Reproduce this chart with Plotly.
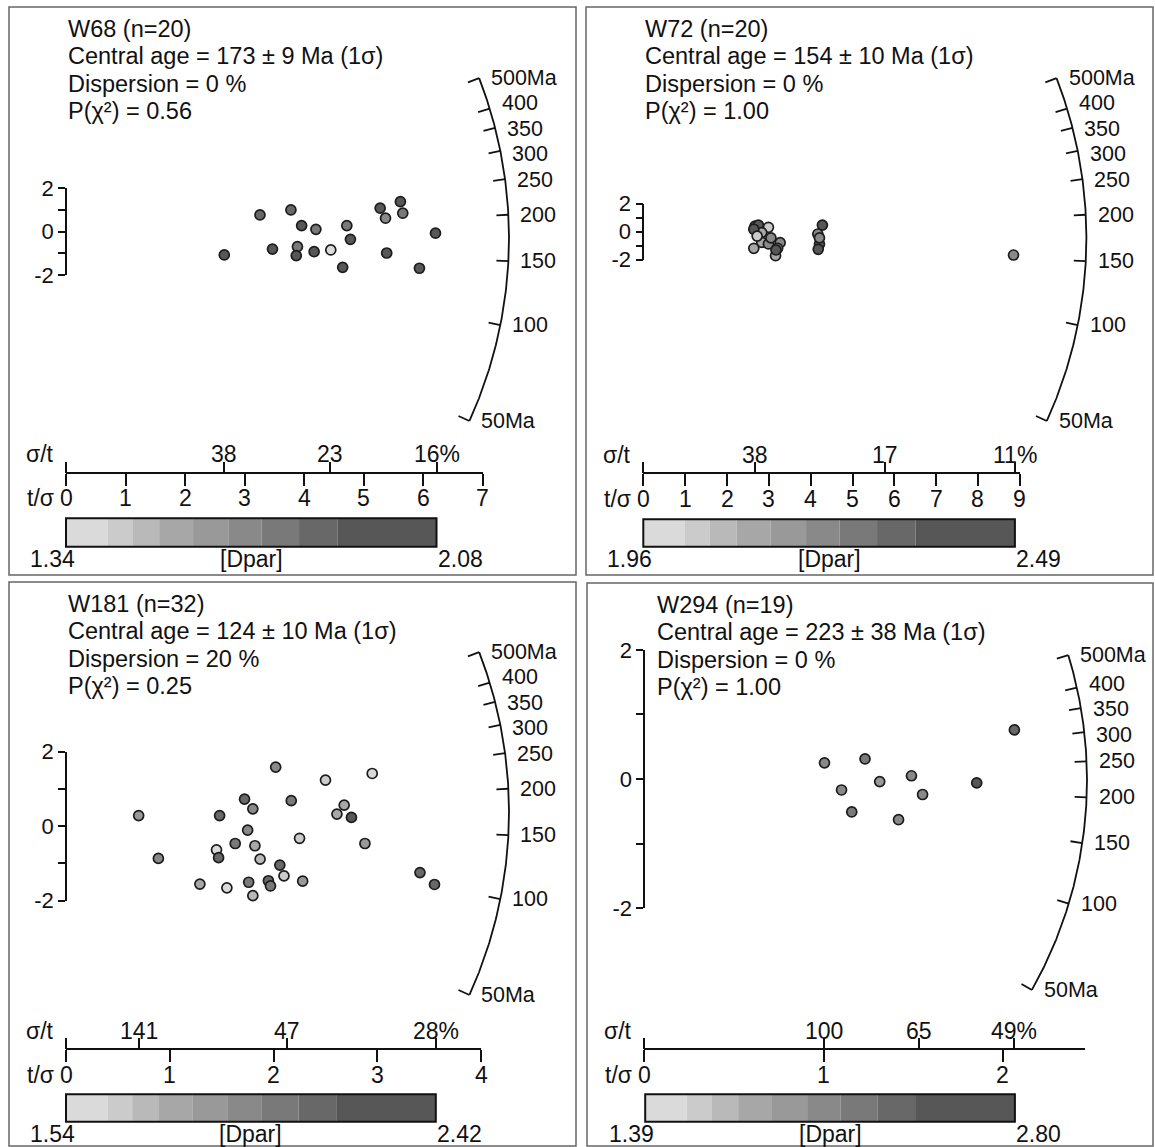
import numpy as np
import plotly.graph_objects as go

W, H = 1155, 1147
FONT = "Liberation Sans, Arial, sans-serif"

# ---------------- data ----------------
# W68
w68_tsig = [2.66, 3.26, 3.47, 3.78, 3.96, 3.89, 3.87, 4.20, 4.17, 4.45, 4.65, 4.72, 4.78, 5.28, 5.37, 5.62, 5.66, 5.39, 5.94, 6.21]
w68_z = [-1.07, 0.77, -0.80, 1.00, 0.28, -0.69, -1.10, 0.11, -0.92, -0.84, -1.64, 0.28, -0.35, 1.08, 0.62, 1.38, 0.85, -0.98, -1.68, -0.07]
w68_dpar = [1.98, 1.84, 1.98, 1.84, 1.98, 1.77, 1.98, 1.77, 1.98, 1.38, 1.98, 1.77, 1.98, 1.98, 1.70, 1.98, 1.77, 1.98, 1.98, 1.98]
w68_sigt_pos = [2.66, 4.43, 6.23]
w68_sigt_lab = ["38", "23", "16%"]
w68_tsig_ticks = [0, 1, 2, 3, 4, 5, 6, 7]
w68_dpar_range = [1.34, 2.08]
w68_text = ["W68 (n=20)", "Central age = 173 ± 9 Ma (1σ)", "Dispersion = 0 %", "P(χ²) = 0.56"]

# W72
w72_tsig = [2.67, 2.75, 2.99, 2.83, 2.64, 2.83, 2.64, 2.99, 3.27, 3.21, 3.16, 4.28, 4.17, 4.21, 4.18, 8.85, 2.72, 3.05, 4.21, 3.17]
w72_z = [0.39, 0.46, 0.30, -0.08, 0.16, -0.77, -1.20, -0.89, -0.80, -1.20, -1.73, 0.46, -0.18, -0.91, -1.27, -1.68, -0.33, -0.46, -0.46, -1.32]
w72_dpar = [2.42, 2.42, 2.04, 2.12, 2.42, 2.12, 2.12, 2.22, 2.22, 2.22, 2.12, 2.42, 2.22, 2.42, 2.42, 2.22, 2.04, 2.22, 2.22, 2.42]
w72_sigt_pos = [2.67, 5.77, 8.88]
w72_sigt_lab = ["38", "17", "11%"]
w72_tsig_ticks = [0, 1, 2, 3, 4, 5, 6, 7, 8, 9]
w72_dpar_range = [1.96, 2.49]
w72_text = ["W72 (n=20)", "Central age = 154 ± 10 Ma (1σ)", "Dispersion = 0 %", "P(χ²) = 1.00"]

# W181
w181_tsig = [2.02, 2.50, 2.95, 1.72, 1.80, 2.17, 0.70, 1.48, 2.68, 2.61, 2.75, 1.75, 2.25, 2.88, 1.63, 1.82,
             1.45, 1.47, 0.89, 1.87, 2.06, 2.10, 2.28, 1.95, 1.97, 1.76, 1.29, 1.55, 1.80, 2.02, 3.41, 3.55]
w181_z = [1.58, 1.23, 1.41, 0.72, 0.46, 0.68, 0.28, 0.28, 0.56, 0.32, 0.23, -0.11, -0.33, -0.47, -0.47, -0.53,
          -0.64, -0.85, -0.87, -0.89, -1.05, -1.34, -1.48, -1.47, -1.61, -1.51, -1.56, -1.66, -1.87, -2.29, -1.25, -1.57]
w181_dpar = [1.97, 1.67, 1.59, 2.14, 1.97, 2.05, 1.88, 2.14, 1.80, 1.80, 2.30, 1.97, 1.67, 1.88, 2.05, 1.80,
             1.59, 2.14, 1.97, 1.73, 2.14, 1.67, 1.88, 2.14, 2.05, 2.05, 1.80, 1.59, 1.73, 1.88, 2.14, 2.14]
w181_sigt_pos = [0.70, 2.13, 3.56]
w181_sigt_lab = ["141", "47", "28%"]
w181_tsig_ticks = [0, 1, 2, 3, 4]
w181_dpar_range = [1.54, 2.42]
w181_text = ["W181 (n=32)", "Central age = 124 ± 10 Ma (1σ)", "Dispersion = 20 %", "P(χ²) = 0.25"]

# W294
w294_tsig = [1.005, 1.231, 1.100, 1.313, 1.490, 1.552, 1.157, 1.418, 1.854, 2.064]
w294_z = [0.25, 0.31, -0.17, -0.04, 0.05, -0.24, -0.51, -0.63, -0.06, 0.76]
w294_dpar = [2.07, 2.20, 2.07, 1.94, 2.07, 2.07, 2.20, 2.07, 2.61, 2.35]
w294_sigt_pos = [1.00, 1.53, 2.06]
w294_sigt_lab = ["100", "65", "49%"]
w294_tsig_ticks = [0, 1, 2]
w294_dpar_range = [1.39, 2.80]
w294_text = ["W294 (n=19)", "Central age = 223 ± 38 Ma (1σ)", "Dispersion = 0 %", "P(χ²) = 1.00"]

z_ticks = [-2, -1, 0, 1, 2]
z_labels = ["-2", "", "0", "", "2"]
arc_ages = [50, 100, 150, 200, 250, 300, 350, 400, 500]
arc_labels = ["50Ma", "100", "150", "200", "250", "300", "350", "400", "500Ma"]

# colour steps of the Dpar scale (fractions of the bar)
cb_fracs = [0.0, 0.112, 0.179, 0.2515, 0.343, 0.438, 0.528, 0.629, 0.7325, 1.0]
cb_colors = ["#dadada", "#cbcbcb", "#b9b9b9", "#a7a7a7", "#999999", "#898989", "#797979", "#686868", "#575757"]

# ---------------- geometry (pixels) ----------------
geoms = [
    dict(box=(9, 7, 576, 575), ox=66.0, oy=231.7, sx=59.5, sy=21.75, xend=7.0, axy=472.7,
         cb=(66.0, 518.3, 436.5, 546.7), tx=66.0, arc=(66.0, 238.0, 443.0, 0.365, 173.2)),
    dict(box=(586, 7, 1153, 575), ox=643.4, oy=231.5, sx=41.82, sy=14.0, xend=9.0, axy=473.3,
         cb=(643.3, 519.3, 1014.9, 546.7), tx=643.4, arc=(643.4, 238.0, 443.0, 0.365, 173.2)),
    dict(box=(9, 582, 576, 1146), ox=66.0, oy=826.0, sx=103.8, sy=37.25, xend=4.0, axy=1049.3,
         cb=(66.0, 1094.3, 435.8, 1121.7), tx=66.0, arc=(66.0, 812.0, 443.0, 0.365, 173.2)),
    dict(box=(587, 583, 1153, 1146), ox=644.3, oy=779.0, sx=179.3, sy=64.6, xend=2.46, axy=1049.0,
         cb=(645.2, 1094.3, 1014.9, 1121.7), tx=655.0, arc=(659.7, 780.1, 427.3, 0.3776, 222.5)),
]
panels = [
    (w68_tsig, w68_z, w68_dpar, w68_sigt_pos, w68_sigt_lab, w68_tsig_ticks, w68_dpar_range, w68_text),
    (w72_tsig, w72_z, w72_dpar, w72_sigt_pos, w72_sigt_lab, w72_tsig_ticks, w72_dpar_range, w72_text),
    (w181_tsig, w181_z, w181_dpar, w181_sigt_pos, w181_sigt_lab, w181_tsig_ticks, w181_dpar_range, w181_text),
    (w294_tsig, w294_z, w294_dpar, w294_sigt_pos, w294_sigt_lab, w294_tsig_ticks, w294_dpar_range, w294_text),
]
ARC_LABEL_GAP = 25.5


def fx(px):
    return px / W


def fy(py):
    return 1 - py / H


def spread(ys, gap):
    ys = list(ys)
    order = sorted(range(len(ys)), key=lambda k: ys[k])
    for _ in range(60):
        moved = False
        for a, b in zip(order[:-1], order[1:]):
            d = ys[b] - ys[a]
            if d < gap:
                s = (gap - d) / 2 + 0.01
                ys[a] -= s
                ys[b] += s
                moved = True
        if not moved:
            break
    return ys


colorscale = []
for i, c in enumerate(cb_colors):
    colorscale.append([cb_fracs[i], c])
    colorscale.append([cb_fracs[i + 1], c])

fig = go.Figure()
layout = dict(
    width=W, height=H, margin=dict(l=0, r=0, t=0, b=0, pad=0),
    paper_bgcolor="white", plot_bgcolor="rgba(0,0,0,0)",
    showlegend=False, font=dict(family=FONT, size=23, color="#111"),
)
shapes, annotations = [], []
PIX = dict(xref="x9", yref="y5")
AX = dict(showgrid=False, zeroline=False, showline=True, linecolor="#111", linewidth=1.8, automargin=False,
          ticks="outside", tickcolor="#111", tickwidth=1.8, fixedrange=True,
          tickfont=dict(family=FONT, size=22, color="#111"))

for i, (g, p) in enumerate(zip(geoms, panels), start=1):
    tsig, z, dpar, sp, sl, tt, dr, txt = p
    x0p = g["ox"]
    x1p = g["ox"] + g["xend"] * g["sx"]
    ytop = g["oy"] - 2 * g["sy"]
    ybot = g["oy"] + 2 * g["sy"]
    # data axes
    layout[f"xaxis{i}"] = dict(AX, domain=[fx(x0p), fx(x1p)], range=[0, g["xend"]], anchor="free",
                               position=fy(g["axy"]), tickvals=tt, showticklabels=False, ticklen=12)
    layout[f"xaxis{i + 4}"] = dict(AX, overlaying=f"x{i}", side="top", range=[0, g["xend"]], anchor="free",
                                   position=fy(g["axy"]), tickvals=[0] + sp, showticklabels=False,
                                   ticklen=11, showline=False)
    layout[f"yaxis{i}"] = dict(AX, domain=[fy(ybot), fy(ytop)], range=[-2, 2], anchor="free",
                               position=fx(g["ox"]), tickvals=z_ticks, ticktext=z_labels, ticklen=7)
    # points
    fig.add_trace(go.Scatter(x=tsig, y=z, xaxis=f"x{i}", yaxis=f"y{i}", mode="markers", cliponaxis=False,
                             hoverinfo="skip",
                             marker=dict(size=10, color=dpar, colorscale=colorscale, cmin=dr[0], cmax=dr[1],
                                         line=dict(color="#1c1c1c", width=1.7))))
    fig.add_trace(go.Scatter(x=sp, y=[0] * len(sp), xaxis=f"x{i + 4}", yaxis=f"y{i}", mode="markers",
                             marker=dict(opacity=0), hoverinfo="skip"))
    # tick labels of the two precision scales
    for v in tt:
        annotations.append(dict(xref=f"x{i}", yref="y5", x=v, y=g["axy"] + 25.5, text=str(v),
                                showarrow=False, xanchor="center", yanchor="middle"))
    for v, lab in zip(sp, sl):
        annotations.append(dict(xref=f"x{i}", yref="y5", x=v, y=g["axy"] - 18.5, text=lab,
                                showarrow=False, xanchor="center", yanchor="middle"))
    annotations.append(dict(PIX, x=g["ox"] - 10, y=g["axy"] - 18.5, text="σ/t", showarrow=False,
                            xanchor="right", yanchor="middle"))
    annotations.append(dict(PIX, x=g["ox"] - 10, y=g["axy"] + 25.5, text="t/σ", showarrow=False,
                            xanchor="right", yanchor="middle"))
    # panel box
    bx = g["box"]
    shapes.append(dict(PIX, type="rect", x0=bx[0], y0=bx[1], x1=bx[2], y1=bx[3],
                       line=dict(color="#666", width=1.5)))
    # header text
    for j, t in enumerate(txt):
        annotations.append(dict(PIX, x=g["tx"], y=bx[1] + 22 + 27.4 * j, text=t, showarrow=False,
                                xanchor="left", yanchor="middle", font=dict(size=23.5)))
    # age arc
    acx, acy, R, K, T0 = g["arc"]
    ages = np.geomspace(arc_ages[0], arc_ages[-1], 240)
    th = np.arctan(K * np.log(ages / T0))
    fig.add_trace(go.Scatter(x=acx + R * np.cos(th), y=acy - R * np.sin(th),
                             xaxis="x9", yaxis="y5", mode="lines", line=dict(color="#111", width=1.8),
                             hoverinfo="skip"))
    tx, ty, lx, ly = [], [], [], []
    for a in arc_ages:
        t = np.arctan(K * np.log(a / T0))
        ax_, ay_ = acx + R * np.cos(t), acy - R * np.sin(t)
        bx_, by_ = acx + (R - 12) * np.cos(t), acy - (R - 12) * np.sin(t)
        tx += [ax_, bx_, None]
        ty += [ay_, by_, None]
        lx.append(ax_ + 10)
        ly.append(ay_)
    ly = spread(ly, ARC_LABEL_GAP)
    for x_, y_, lab in zip(lx, ly, arc_labels):
        annotations.append(dict(PIX, x=x_, y=y_, text=lab, showarrow=False,
                                xanchor="left", yanchor="middle", font=dict(size=21.5)))
    fig.add_trace(go.Scatter(x=tx, y=ty, xaxis="x9", yaxis="y5", mode="lines",
                             line=dict(color="#111", width=1.8), hoverinfo="skip"))
    # Dpar colour bar
    c0, cy0, c1, cy1 = g["cb"]
    for k, col in enumerate(cb_colors):
        shapes.append(dict(PIX, type="rect", x0=c0 + cb_fracs[k] * (c1 - c0), x1=c0 + cb_fracs[k + 1] * (c1 - c0),
                           y0=cy0, y1=cy1, fillcolor=col, line=dict(width=0), layer="below"))
    shapes.append(dict(PIX, type="rect", x0=c0, x1=c1, y0=cy0, y1=cy1, line=dict(color="#111", width=2)))
    annotations.append(dict(PIX, x=c0 - 14, y=cy1 + 12, text=f"{dr[0]:.2f}", showarrow=False,
                            xanchor="center", yanchor="middle"))
    annotations.append(dict(PIX, x=c1 - 1, y=cy1 + 12, text=f"{dr[1]:.2f}", showarrow=False,
                            xanchor="left", yanchor="middle"))
    annotations.append(dict(PIX, x=(c0 + c1) / 2, y=cy1 + 12, text="[Dpar]", showarrow=False,
                            xanchor="center", yanchor="middle"))

layout["xaxis9"] = dict(domain=[0, 1], range=[0, W], visible=False, fixedrange=True, anchor="y5",
                        automargin=False)
layout["yaxis5"] = dict(domain=[0, 1], range=[H, 0], visible=False, fixedrange=True, anchor="x9",
                        automargin=False)
layout["shapes"] = shapes
layout["annotations"] = annotations
fig.update_layout(**layout)
fig.write_html("out.html", config={"displayModeBar": False},
               post_script="document.body.style.margin='0';document.body.style.overflow='hidden';")
